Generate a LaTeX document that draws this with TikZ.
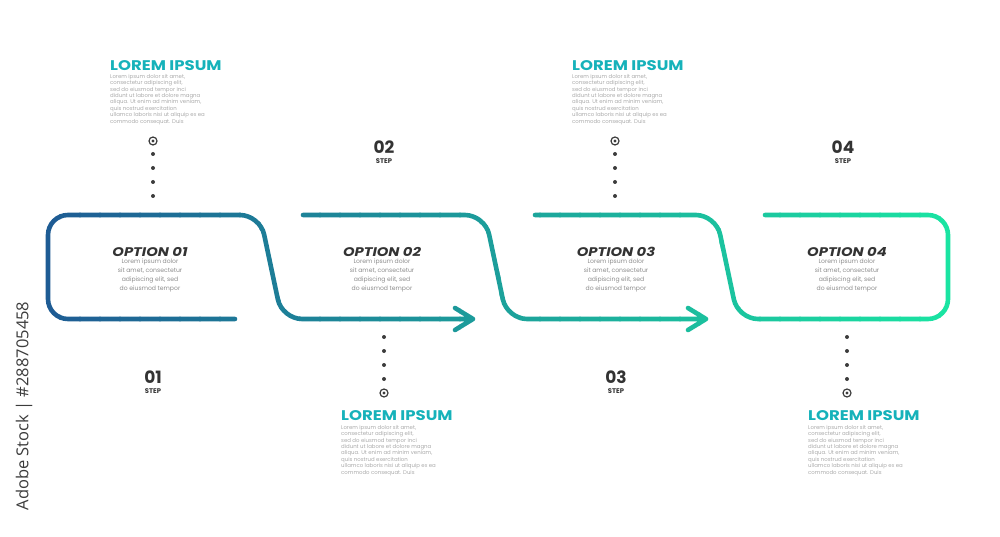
\documentclass[tikz,border=0pt]{standalone}
\usepackage{fontspec}
\setmainfont{Poppins}
\newfontfamily\widefont{Poppins}[FakeStretch=1.18]
\newfontfamily\stockfont{Open Sans}

\definecolor{flowstart}{RGB}{30,92,148}
\definecolor{flowend}{RGB}{26,228,162}
\definecolor{headteal}{RGB}{22,178,186}
\definecolor{darktext}{RGB}{51,51,51}
\definecolor{softtext}{RGB}{140,140,140}
\definecolor{paletext}{RGB}{170,170,170}
\definecolor{dotgray}{RGB}{60,60,60}

\newcommand\loremblurb{Lorem ipsum dolor sit amet,\\consectetur adipiscing elit,\\sed do eiusmod tempor inci\\didunt ut labore et dolore magna\\aliqua. Ut enim ad minim veniam,\\quis nostrud exercitation\\ullamco laboris nisi ut aliquip ex ea\\commodo consequat. Duis}
\newcommand\optblurb{Lorem ipsum dolor\\sit amet, consectetur\\adipiscing elit, sed\\do eiusmod tempor}

\tikzset{
  head/.style={anchor=west, inner sep=0, text=headteal, font=\widefont\fontsize{14}{16}\selectfont\bfseries},
  blurb/.style={anchor=north west, inner sep=0, align=left, text=paletext, font=\fontsize{5.4}{6.4}\selectfont},
  opttitle/.style={inner sep=0, text=darktext, font=\widefont\fontsize{12.5}{14}\selectfont\bfseries\itshape},
  optbody/.style={anchor=north, inner sep=0, align=center, text=softtext, font=\fontsize{6.1}{8.8}\selectfont},
  stepnum/.style={inner sep=0, text=darktext, font=\fontsize{17}{18}\selectfont\bfseries},
  steplbl/.style={inner sep=0, text=darktext, font=\fontsize{6.8}{7}\selectfont\bfseries},
  marker/.style={circle, draw=dotgray, line width=1.2pt, minimum size=8pt, inner sep=0,
    path picture={\fill[dotgray] (path picture bounding box.center) circle (1.7pt);}},
  dotline/.style={draw=dotgray, line width=4pt, line cap=round, dash pattern=on 0pt off 14pt},
  flowline/.style={line width=4.6pt, line cap=round, line join=round}
}

\begin{document}
\begin{tikzpicture}[x=1pt, y=-1pt]
\useasboundingbox (0,0) rectangle (1000,537);

% the running line, one path, coloured strip by strip
\path[save path=\flowpath, rounded corners=20pt]
  (235,319) -- (48,319) -- (48,215) -- (260,215) -- (282,319) -- (473,319)
  (303,215) -- (485,215) -- (507,319) -- (706,319)
  (535,215) -- (716,215) -- (738,319) -- (948,319) -- (948,215) -- (765,215)
  [sharp corners] (455,308) -- (473,319) -- (455,330)
  (688,308) -- (706,319) -- (688,330);
\foreach \i in {0,...,45}{
  \pgfmathsetmacro\mix{100*\i/45}
  \begin{scope}
    \clip (40+20*\i-0.6,190) rectangle (60+20*\i+0.6,345);
    \draw[flowline, draw=flowend!\mix!flowstart, use path=\flowpath];
  \end{scope}
}

% options
\node[opttitle] (opt1) at (150,252) {OPTION 01};
\node[optbody] (txt1) at (150,259) {\optblurb};
\node[opttitle] (opt2) at (382,252) {OPTION 02};
\node[optbody] (txt2) at (382,259) {\optblurb};
\node[opttitle] (opt3) at (616,252) {OPTION 03};
\node[optbody] (txt3) at (616,259) {\optblurb};
\node[opttitle] (opt4) at (847,252) {OPTION 04};
\node[optbody] (txt4) at (847,259) {\optblurb};

% steps
\node[stepnum] (num1) at (153,377) {01};
\node[steplbl] (step1) at (153,391) {STEP};
\node[stepnum] (num2) at (384,147) {02};
\node[steplbl] (step2) at (384,161) {STEP};
\node[stepnum] (num3) at (616,377) {03};
\node[steplbl] (step3) at (616,391) {STEP};
\node[stepnum] (num4) at (843,147) {04};
\node[steplbl] (step4) at (843,161) {STEP};

% top blocks
\node[head] (head1) at (110,66) {LOREM IPSUM};
\node[blurb] (blurb1) at (110,74) {\loremblurb};
\node[marker] (m1) at (153,141) {};
\coordinate (t1) at (153,154);
\coordinate (b1) at (153,197);
\draw[dotline] (t1) -- (b1);

\node[head] (head3) at (572,66) {LOREM IPSUM};
\node[blurb] (blurb3) at (572,74) {\loremblurb};
\node[marker] (m3) at (615,141) {};
\coordinate (t3) at (615,154);
\coordinate (b3) at (615,197);
\draw[dotline] (t3) -- (b3);

% bottom blocks
\coordinate (t2) at (384,337);
\coordinate (b2) at (384,380);
\draw[dotline] (t2) -- (b2);
\node[marker] (m2) at (384,393) {};
\node[head] (head2) at (341,416) {LOREM IPSUM};
\node[blurb] (blurb2) at (341,425) {\loremblurb};

\coordinate (t4) at (847,337);
\coordinate (b4) at (847,380);
\draw[dotline] (t4) -- (b4);
\node[marker] (m4) at (847,393) {};
\node[head] (head4) at (808,416) {LOREM IPSUM};
\node[blurb] (blurb4) at (808,425) {\loremblurb};

\node[rotate=90, text=dotgray, font=\stockfont\fontsize{16.5}{18}\selectfont] (stock) at (24,406) {Adobe Stock | \#288705458};
\end{tikzpicture}
\end{document}
